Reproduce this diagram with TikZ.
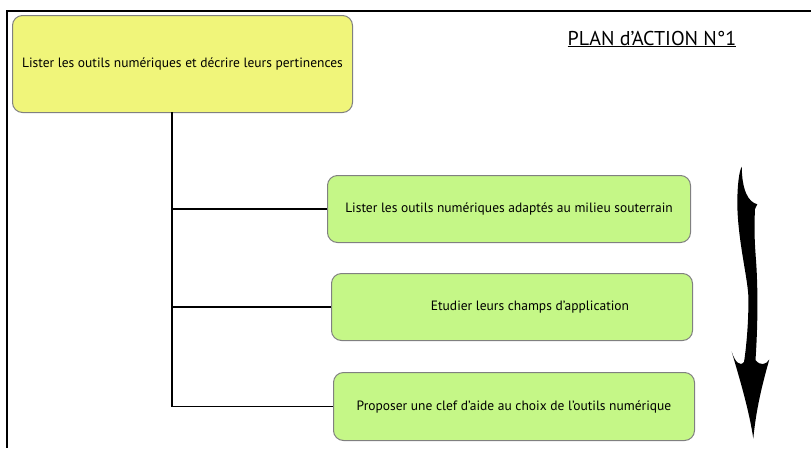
\documentclass[tikz,border=0pt]{standalone}
\usepackage{fontspec}
\setmainfont{PT Sans}
\usepackage{tikz}
\usetikzlibrary{positioning}
\usepackage{xcolor}
\definecolor{rootyellow}{RGB}{240,245,122}
\definecolor{stepgreen}{RGB}{197,247,135}

\begin{document}
\begin{tikzpicture}[
x = 1pt, y = -1pt,
every node/.style = {font = \fontsize{13.5}{15}\selectfont},
  action/.style = {draw = gray, line width = 1pt, rounded corners = 10pt,
    anchor = north west, inner sep = 0pt},
  link/.style = {draw = black, line width = 1.1pt}
]
\useasboundingbox (0,0) rectangle (811,448);
% frame
\draw[line width = 1.2pt] (811,11) -- (7,11) -- (7,448);

\node[action, fill = rootyellow, minimum width = 340, minimum height = 97]
    (root) at (12,15) {Lister les outils numériques et décrire leurs pertinences};
\node[anchor = base] (title) at (652,45)
    {\fontsize{20}{22}\selectfont\underline{PLAN d’ACTION N°1}};

\node[action, fill = stepgreen, minimum width = 363, minimum height = 67]
    (act1) at (327,175) {Lister les outils numériques adaptés au milieu souterrain};
\node[action, fill = stepgreen, minimum width = 361, minimum height = 67]
    (act2) at (331,273) {\hspace*{36pt}Etudier leurs champs d’application};
\node[action, fill = stepgreen, minimum width = 361, minimum height = 68]
    (act3) at (333,372) {Proposer une clef d’aide au choix de l’outils numérique};

% tree connectors
\coordinate (trunk) at (172,112);
\draw[link] (trunk) |- (act3.west);
\draw[link] (trunk |- act1.west) -- (act1.west);
\draw[link] (trunk |- act2.west) -- (act2.west);

% big arrow
\fill (741.7,166.5)
    .. controls (742,190) and (748,202) .. (757.3,204.3)
    -- (755,209)
    .. controls (753.5,240) and (756,255) .. (756.7,272)
    .. controls (758,300) and (757.5,330) .. (755.5,360)
    .. controls (760,366) and (766,365) .. (769.3,359.5)
    .. controls (762,385) and (756,410) .. (753.3,438.5)
    .. controls (749,410) and (740,380) .. (731.7,351.7)
    .. controls (735,362) and (740,367) .. (744,362)
    .. controls (746,350) and (749,320) .. (748.3,295)
    .. controls (747,275) and (738,240) .. (737.3,205)
    .. controls (737.3,185) and (739,172) .. (741.7,166.5) -- cycle;
\end{tikzpicture}
\end{document}
